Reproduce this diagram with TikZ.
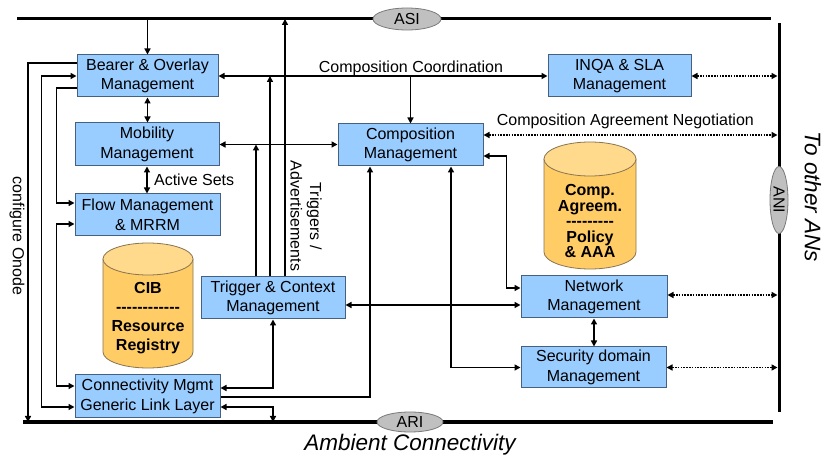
\documentclass[tikz,border=0pt]{standalone}
\usepackage{fontspec}
\setmainfont{Liberation Sans}
\usetikzlibrary{arrows.meta,calc,shapes.geometric}
\definecolor{boxfill}{HTML}{99CCFF}
\definecolor{boxline}{HTML}{46617F}
\definecolor{cylfill}{HTML}{FFCC66}
\definecolor{cyltopc}{HTML}{FFD98C}
\definecolor{cylline}{HTML}{8A7550}
\definecolor{ifill}{HTML}{C0C0C0}
\definecolor{iline}{HTML}{7A7A7A}
\newcommand\dashrow[1]{\foreach \i in {1,...,#1}{\mbox{-}}}
\begin{document}
\begin{tikzpicture}[x=1pt,y=-1pt,
  font=\fontsize{16}{19.5}\selectfont,
  blk/.style={draw=boxline, line width=1pt, fill=boxfill, align=center, inner sep=0pt},
  tip/.tip={Triangle[length=6pt,width=6pt]},
  one/.style={line width=1.5pt, -tip},
  two/.style={line width=1.5pt, tip-tip},
  dots/.style={line width=1.6pt, dash pattern=on 1.6pt off 1.2pt, tip-tip, shorten >=1.5pt},
  bus/.style={line width=3pt},
  iface/.style={ellipse, draw=iline, fill=ifill, line width=0.8pt, inner sep=0pt},
  cylbody/.style={draw=cylline, fill=cylfill, line width=0.8pt},
  cyltop/.style={draw=cylline, fill=cyltopc, line width=0.8pt},
  cyltext/.style={align=center, inner sep=0pt, font=\fontsize{16}{19}\selectfont\bfseries},
  bigit/.style={font=\fontsize{22.5}{27}\selectfont\itshape}
]
\useasboundingbox (0,0) rectangle (823,457);

% buses
\coordinate (asiL) at (17,19);  \coordinate (asiR) at (771,19);
\coordinate (ariL) at (23,422); \coordinate (ariR) at (773,422);
\coordinate (aniT) at (779,23); \coordinate (aniB) at (779,412);
\coordinate (cfg) at (28,422);
\draw[bus] (asiL) -- (asiR);
\draw[bus] (ariL) -- (ariR);
\draw[bus] (aniT) -- (aniB);
\node[iface, minimum width=68pt, minimum height=22pt] (asi) at (407,19) {ASI};
\node[iface, minimum width=66pt, minimum height=20pt] (ari) at (410,422) {ARI};
\node[iface, minimum width=67pt, minimum height=18pt, rotate=-90] (ani) at (779,200) {ANI};

% boxes
\node[blk, minimum width=141pt, minimum height=42pt] (bo) at (147.5,76) {Bearer \& Overlay\\Management};
\node[blk, minimum width=144pt, minimum height=43pt] (mob) at (147,144.5) {Mobility\\Management};
\node[blk, minimum width=145pt, minimum height=42pt] (flow) at (147.5,215) {Flow Management\\\& MRRM};
\node[blk, minimum width=145pt, minimum height=43pt] (cm) at (147.5,396.5) {Connectivity Mgmt\\Generic Link Layer};
\node[blk, minimum width=144pt, minimum height=42pt] (trig) at (273,298) {Trigger \& Context\\Management};
\node[blk, minimum width=145pt, minimum height=42pt] (comp) at (410.5,145) {Composition\\Management};
\node[blk, minimum width=143pt, minimum height=42pt] (inqa) at (619.5,76) {INQA \& SLA\\Management};
\node[blk, minimum width=146pt, minimum height=42pt] (net) at (594,297) {Network\\Management};
\node[blk, minimum width=145pt, minimum height=41pt] (sec) at (593.5,367.5) {Security domain\\Management};

% cylinders
\filldraw[cylbody] (103,259) -- (103,352) arc[start angle=180, end angle=360, x radius=45pt, y radius=16pt] -- (193,259) -- cycle;
\filldraw[cyltop] (148,259) ellipse[x radius=45pt, y radius=16pt];
\node[cyltext] (cib) at (148,318) {CIB\\\dashrow{12}\\Resource\\Registry};
\filldraw[cylbody] (544,159) -- (544,252) arc[start angle=180, end angle=360, x radius=46pt, y radius=17pt] -- (636,159) -- cycle;
\filldraw[cyltop] (590,159) ellipse[x radius=46pt, y radius=17pt];
\node[cyltext, font=\fontsize{16}{15.5}\selectfont\bfseries] (cagr) at (590,221) {Comp.\\Agreem.\\\dashrow{9}\\Policy\\\& AAA};

% connectors
\draw[one] (bo.north |- asiL) -- (bo.north);
\draw[two] (bo.south) -- (bo.south |- mob.north);
\draw[two] (mob.south) -- (mob.south |- flow.north) node[midway, right=3pt]{Active Sets};
\draw[two] (bo.east) -- (bo.east -| inqa.west) node[pos=0.585, anchor=base, yshift=3pt, inner sep=0pt]{Composition Coordination};
\draw[one] (comp.north |- bo.east) -- (comp.north);
\draw[two] (mob.east) -- (mob.east -| comp.west);
\draw[one] ([xshift=-17pt]trig.north) -- ([xshift=-17pt]trig.north |- mob.east);
\draw[one] ([xshift=-3pt]trig.north) -- ([xshift=-3pt]trig.north |- bo.east);
\draw[one] ([xshift=12pt]trig.north) -- ([xshift=12pt]trig.north |- asiL);
\node[rotate=-90, align=center, inner sep=0pt] (trl) at (306,216) {Triggers /\\Advertisements};
\draw[two] ([yshift=8.5pt]cm.east) -| (trig.south);
\draw[one] ([yshift=-0.5pt]cm.east) -| ([xshift=-40.5pt]comp.south);
\draw[two] ([yshift=-10.5pt]cm.east) -| (trig.south |- ariL);
\draw[two] ([yshift=-7pt]trig.east) -- ([yshift=-7pt]trig.east -| net.west);
\draw[two] ([xshift=40.5pt]comp.south) |- (sec.west);
\draw[two] ([yshift=-11pt]comp.east) -- ++(23,0) |- ([yshift=9pt]net.west);
\draw[two] (net.south) -- (net.south |- sec.north);

% dotted links to ANI
\draw[dots] (inqa.east) -- (inqa.east -| aniT);
\draw[dots] ([yshift=10pt]comp.east) -- ([yshift=10pt]comp.east -| aniT) node[pos=0.48, anchor=base, yshift=9pt, inner sep=0pt, solid]{Composition Agreement Negotiation};
\draw[dots] ([yshift=2pt]net.east) -- ([yshift=2pt]net.east -| aniT);
\draw[dots] (sec.east) -- (sec.east -| aniT);

% left side
\draw[one] ([yshift=13pt]bo.west) -| (cfg);
\draw[two] (bo.west) -- ++(-35,0) |- ([yshift=-10.5pt]cm.west);
\draw[one] ([yshift=-12pt]bo.west) -- ++(-20,0) |- ([yshift=12pt]flow.west);
\draw[two] ([yshift=-9pt]flow.west) -- ++(-18,0) |- ([yshift=10.5pt]cm.west);
\node[rotate=-90, inner sep=0pt] (cfgl) at (17,236) {configure Onode};

% outer labels
\node[bigit, rotate=-90, inner sep=0pt] (toan) at (813,197) {To other ANs};
\node[bigit, inner sep=0pt] (amb) at (410,445) {Ambient Connectivity};
\end{tikzpicture}
\end{document}
